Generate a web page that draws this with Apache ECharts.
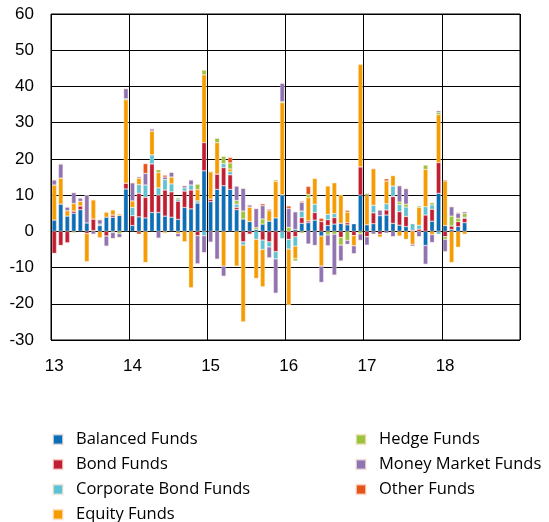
<!DOCTYPE html>
<html>
<head>
<meta charset="utf-8">
<script src="https://cdn.jsdelivr.net/npm/echarts@6/dist/echarts.min.js"></script>
<style>
  html, body { margin: 0; background: #fff; }
  #chart { width: 549px; height: 522px; }
</style>
</head>
<body>
<div id="chart"></div>
<script>
// year tick labels, one category per month from Jan 2013 to Dec 2018
var years = ['13', '14', '15', '16', '17', '18'];
var months = [];
years.forEach(function (y) {
  for (var m = 1; m <= 12; m++) months.push('20' + y + '-' + (m < 10 ? '0' + m : m));
});

// monthly flows, Jan 2013 .. Apr 2018
var balanced = [
  3.1, 7.5, 4.2, 5.0, 6.0, 2.3, 0.2, 1.6, 3.9, 3.9, 4.4, 11.7,
  1.6, 4.0, 3.7, 5.2, 5.2, 4.2, 3.9, 3.3, 6.6, 6.2, 7.8, 16.7,
  8.2, 11.6, 12.6, 11.6, 6.0, 3.4, 2.7, 0.5, 2.0, 2.8, 3.7, 10.1,
  0, 0.5, 2.2, 2.4, 3.1, -1.3, 1.6, 2.0, 2.2, 1.8, 2.1, 10.0,
  1.8, 2.1, 4.3, 4.5, 2.2, 1.7, 1.3, 0, 0, -3.9, 2.8, 10.5,
  1.6, 0.5, 1.3, 2.4
];
var bond = [
  -6.1, -3.9, -3.2, 0.6, 1.0, -0.6, 3.2, 0, -1.3, 0.6, 0, 1.6,
  2.7, 6.5, 5.7, 13.4, 4.8, 7.2, 7.0, 5.0, 4.5, 5.2, -1.2, 7.8,
  0.7, 4.2, 5.0, 4.0, 0.6, -2.9, -0.8, 0, -2.4, -2.9, -5.6, 0,
  -2.2, -1.5, 1.6, 0.5, 2.1, 2.7, 1.6, 1.8, -1.7, 0.6, -1.2, 7.8,
  -1.5, 3.0, -0.8, 1.4, 7.4, 3.7, 2.8, 0.3, 0.6, 4.5, 3.3, 8.5,
  -1.5, 1.0, 1.4, 1.2
];
var corporate = [
  0, 0, 0, 0, 0, 0, 0, 0.4, 0, 0, 0, 0,
  2.3, 2.4, 3.4, 2.5, 2.0, 2.9, 2.2, 0.6, 0.9, 1.4, 0.6, -1.2,
  0, 0, 1.1, 0.9, 0.9, -0.9, 0, -2.2, -2.6, -1.4, -2.0, -2.0,
  -2.7, -2.6, 1.8, 0, 2.3, 0, 1.5, 1.1, 0, 0, 0, 0,
  0, 2.1, 0, 1.7, 2.9, 2.0, 2.6, 1.8, 1.1, 2.3, 1.2, -0.8,
  0, 0, 0, 0.3
];
var equity = [
  9.7, 7.2, 1.5, 2.1, 1.3, -7.8, 5.3, -1.8, 1.4, 1.4, 0.4, 23.0,
  1.8, 1.8, -8.6, 6.6, 4.2, -0.5, 1.9, -0.6, -2.9, -15.6, 3.1, 18.7,
  7.5, 8.7, -9.6, 0.7, -9.6, -21.2, 4.0, -10.8, -10.3, 2.9, 10.1, 25.4,
  -15.5, -3.4, 0, 6.4, 7.1, -8.3, 7.8, 8.5, 7.9, 2.9, -2.8, 28.3,
  8.1, 10.1, -0.8, 6.3, 2.9, -1.3, -2.2, -3.6, 4.9, 10.3, -0.9, 13.2,
  12.3, -8.6, -4.4, -0.8
];
var hedge = [
  0, 0, 0, -0.4, 0, 0, 0, 0, 0, -0.3, -0.6, 0.3,
  0, 0, 0, 0, 0.8, 0, 0, 0.4, 0, 0, 1.5, 1.3,
  0.2, 1.2, 2.0, 1.7, 1.0, 2.2, 0, 0.5, 1.4, 0, 0.4, 0.3,
  1.1, -0.7, -0.5, 0.9, 0, 0, -1.0, -0.8, -2.1, -2.5, 0, -0.7,
  0.5, 0, 0, 0, 0, 0.7, 0.8, 0, 0.4, 1.2, 0.6, 0.6,
  -0.7, 2.7, 0.9, 1.0
];
var moneyMarket = [
  1.4, 3.9, 1.0, 3.0, 0.9, 7.7, -0.8, 1.2, -2.8, -1.7, -1.1, 2.8,
  5.0, 0.4, 3.2, 0.6, -1.9, 0.7, 1.3, -0.9, 0.6, 1.4, -7.8, -4.7,
  -3.0, -7.7, -2.8, 0, 4.0, 6.3, 0.6, 5.3, 3.7, -3.0, -9.5, 5.1,
  5.2, 4.9, 2.4, -3.5, -3.9, -4.5, -3.0, -11.3, -4.4, -1.1, -2.2, -1.8,
  -2.3, -0.8, 1.6, -0.5, -1.5, 4.5, 4.3, -0.5, -1.5, -5.2, -2.2, 0.5,
  -3.4, 2.6, 1.4, 0.5
];
var other = [
  0, 0, 0, 0, 0, 0, 0, 0, 0, 0, 0, 0,
  0, -0.8, 2.7, 0, 0, 0.5, 0, 0, 0, 0, 0, 0,
  0, 0, 0, 1.5, 0, 0, 0, 0, 0.5, 0.4, 0, 0,
  0.7, 0, 0.3, 2.2, 0, 0.9, 0, 0, 0, 0.5, 0, 0,
  0.2, 0, 0, 0.6, 0, 0, 0, 0, 0, 0, 0, 0,
  0.3, 0, 0.2, 0
];

var names = ['Balanced Funds', 'Bond Funds', 'Corporate Bond Funds', 'Equity Funds',
             'Hedge Funds', 'Money Market Funds', 'Other Funds'];
var colors = ['#0b6eb8', '#c01f33', '#5bc3d3', '#f59d00', '#9bc33b', '#8f74b3', '#e55519'];
var values = [balanced, bond, corporate, equity, hedge, moneyMarket, other];

var chart = echarts.init(document.getElementById('chart'));

var legendText = { fontFamily: 'Open Sans', fontSize: 16.5, color: '#000', padding: [0, 0, 0, 8] };

chart.setOption({
  animation: false,
  color: colors,
  grid: {
    left: 51, right: 29, top: 14, bottom: 182,
    show: true, borderColor: '#000', borderWidth: 1
  },
  legend: [{
    data: names.slice(0, 4),
    orient: 'vertical', left: 47, top: 426, height: 100,
    itemWidth: 10, itemHeight: 10, itemGap: 8,
    icon: 'rect', textStyle: legendText
  }, {
    data: names.slice(4),
    orient: 'vertical', left: 350, top: 426, height: 100,
    itemWidth: 10, itemHeight: 10, itemGap: 8,
    icon: 'rect', textStyle: legendText
  }],
  xAxis: {
    type: 'category',
    data: months,
    boundaryGap: true,
    axisLine: { show: false },
    axisTick: { show: false },
    axisLabel: {
      interval: 11, margin: 18,
      fontFamily: 'Liberation Sans', fontSize: 17, color: '#000',
      formatter: function (v) { return v.slice(2, 4); }
    },
    splitLine: { show: true, interval: 11, lineStyle: { color: '#000', width: 1 } }
  },
  yAxis: {
    type: 'value',
    min: -30, max: 60, interval: 10,
    axisLine: { show: false },
    axisTick: { show: false },
    axisLabel: { margin: 17, fontFamily: 'Liberation Sans', fontSize: 17, color: '#000' },
    splitLine: { lineStyle: { color: '#000', width: 1 } }
  },
  series: names.map(function (n, i) {
    return {
      name: n,
      type: 'bar',
      stack: 'flows',
      data: values[i],
      barCategoryGap: '30%',
      itemStyle: { borderColor: 'rgba(255,235,225,0.7)', borderWidth: 0.5 }
    };
  })
});
</script>
</body>
</html>
